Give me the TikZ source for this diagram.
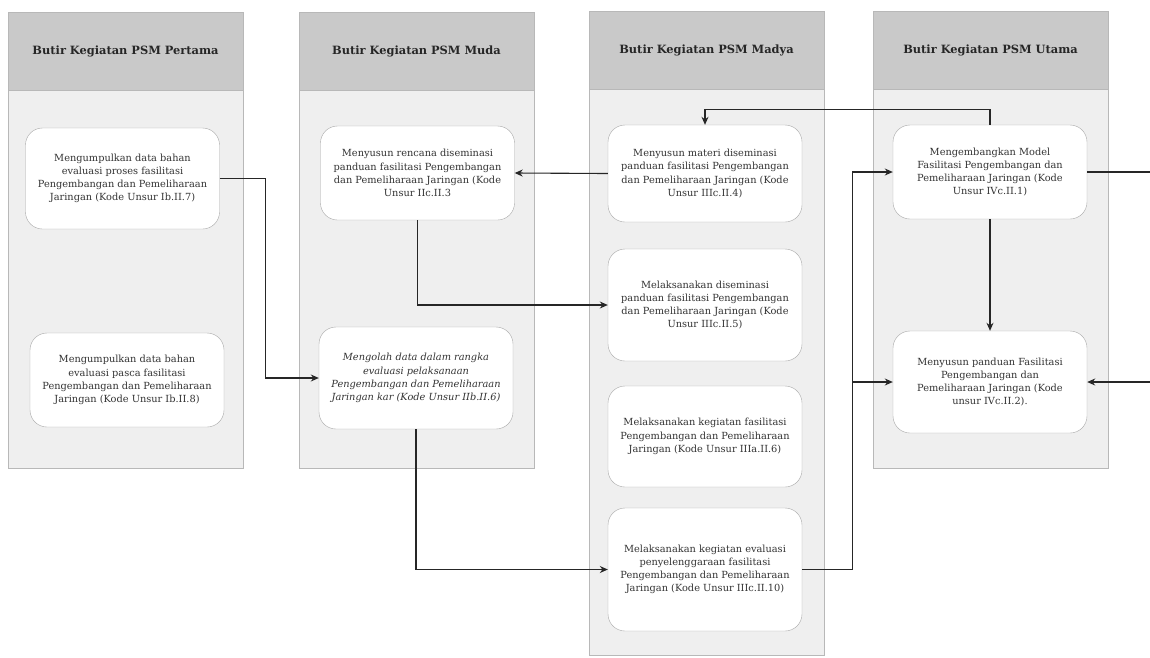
\documentclass[tikz,border=0pt]{standalone}
\usepackage{fontspec}
\setmainfont{DejaVu Serif}
\usetikzlibrary{arrows.meta}
\definecolor{headgray}{HTML}{C9C9C9}
\definecolor{panelgray}{HTML}{EFEFEF}
\definecolor{panelline}{HTML}{B8B8B8}
\definecolor{boxline}{HTML}{A8A8A8}
\definecolor{txt}{HTML}{333333}
\tikzset{
  head/.style={draw=panelline, fill=headgray, minimum width=235pt, minimum height=78pt,
    inner sep=0pt, font=\bfseries\fontsize{11.4}{13}\selectfont, text=black!85},
  panel/.style={draw=panelline, fill=panelgray, minimum width=235pt, inner sep=0pt},
  task/.style={draw=boxline, fill=white, rounded corners=17pt, align=center, inner sep=2pt,
    minimum width=194pt, text=txt, font=\fontsize{9.8}{13.2}\selectfont},
  conn/.style={draw=black!85, line width=1.1pt, -{Stealth[length=8pt,width=7pt]}},
  link/.style={draw=black!85, line width=1.1pt}
}
\begin{document}
\begin{tikzpicture}[x=1pt,y=-1pt]
\useasboundingbox (0,0) rectangle (1150,657);
\fill[white] (0,0) rectangle (1150,657);

% column panels: header band on top, light body below
\node[panel, minimum height=378pt] (b1) at (125.5,279) {};
\node[head] (h1) at (125.5,51) {Butir Kegiatan PSM Pertama};
\node[panel, minimum height=378pt] (b2) at (416.5,279) {};
\node[head] (h2) at (416.5,51) {Butir Kegiatan PSM Muda};
\node[panel, minimum height=567pt] (b3) at (706.5,371.5) {};
\node[head] (h3) at (706.5,50) {Butir Kegiatan PSM Madya};
\node[panel, minimum height=380pt] (b4) at (990.5,278) {};
\node[head] (h4) at (990.5,50) {Butir Kegiatan PSM Utama};

% Pertama
\node[task, minimum height=101pt] (p1a) at (122.5,178.5)
  {Mengumpulkan data bahan\\evaluasi proses fasilitasi\\Pengembangan dan Pemeliharaan\\Jaringan (Kode Unsur Ib.II.7)};
\node[task, minimum height=94pt] (p1b) at (127,380)
  {Mengumpulkan data bahan\\evaluasi pasca fasilitasi\\Pengembangan dan Pemeliharaan\\Jaringan (Kode Unsur Ib.II.8)};

% Muda
\node[task, minimum height=94pt] (m2a) at (417.5,173)
  {Menyusun rencana diseminasi\\panduan fasilitasi Pengembangan\\dan Pemeliharaan Jaringan (Kode\\Unsur IIc.II.3};
\node[task, minimum height=102pt, font=\itshape\fontsize{9.8}{13.2}\selectfont] (m2b) at (416,378)
  {Mengolah data dalam rangka\\evaluasi pelaksanaan\\Pengembangan dan Pemeliharaan\\Jaringan kar (Kode Unsur IIb.II.6)};

% Madya
\node[task, minimum height=97pt] (y3a) at (705,173.5)
  {Menyusun materi diseminasi\\panduan fasilitasi Pengembangan\\dan Pemeliharaan Jaringan (Kode\\Unsur IIIc.II.4)};
\node[task, minimum height=112pt] (y3b) at (705,305)
  {Melaksanakan diseminasi\\panduan fasilitasi Pengembangan\\dan Pemeliharaan Jaringan (Kode\\Unsur IIIc.II.5)};
\node[task, minimum height=101pt] (y3c) at (705,436.5)
  {Melaksanakan kegiatan fasilitasi\\Pengembangan dan Pemeliharaan\\Jaringan (Kode Unsur IIIa.II.6)};
\node[task, minimum height=123pt] (y3d) at (705,569.5)
  {Melaksanakan kegiatan evaluasi\\penyelenggaraan fasilitasi\\Pengembangan dan Pemeliharaan\\Jaringan (Kode Unsur IIIc.II.10)};

% Utama
\node[task, minimum height=94pt] (u4a) at (990,172)
  {Mengembangkan Model\\Fasilitasi Pengembangan dan\\Pemeliharaan Jaringan (Kode\\Unsur IVc.II.1)};
\node[task, minimum height=102pt] (u4b) at (990,382)
  {Menyusun panduan Fasilitasi\\Pengembangan dan\\Pemeliharaan Jaringan (Kode\\unsur IVc.II.2).};

% connectors
\draw[conn] (p1a.east) -- ++(46,0) |- (m2b.west);
\draw[conn] (m2a.south) |- (y3b.west);
\draw[conn] (y3a.west) -- (m2a.east);
\draw[conn] (m2b.south) |- (y3d.west);
\draw[link] (y3d.east) -- ++(50,0) coordinate (jn);
\draw[conn] (jn) |- (u4a.west);
\draw[conn] (jn) |- (u4b.west);
\draw[conn] (u4a.north) -- ++(0,-15) -| (y3a.north);
\draw[conn] (u4a.south) -- (u4b.north);
\draw[conn] (u4a.east) -- ++(80,0) |- (u4b.east);
\end{tikzpicture}
\end{document}
